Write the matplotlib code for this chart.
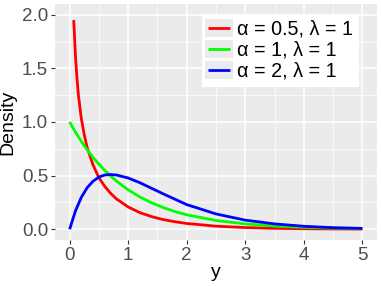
import matplotlib.pyplot as plt
from matplotlib.patches import Rectangle
from matplotlib.legend_handler import HandlerLine2D

# values
x_red = [0.07, 0.085, 0.1, 0.125, 0.15, 0.2, 0.25, 0.3, 0.4, 0.5, 0.6, 0.7, 0.8,
         1.0, 1.2, 1.4, 1.6, 1.8, 2.0, 2.5, 3.0, 3.5, 4.0, 4.5, 5.0]
y_red = [1.95, 1.78, 1.61, 1.41, 1.25, 1.03, 0.88, 0.76, 0.60, 0.48, 0.40, 0.335, 0.283,
         0.208, 0.155, 0.118, 0.090, 0.070, 0.054, 0.029, 0.016, 0.009, 0.005, 0.003, 0.002]

x_grid = [0, 0.1, 0.2, 0.3, 0.4, 0.5, 0.6, 0.7, 0.8, 1.0, 1.2, 1.4, 1.6, 1.8, 2.0,
          2.5, 3.0, 3.5, 4.0, 4.5, 5.0]
y_green = [1.0, 0.905, 0.819, 0.741, 0.670, 0.607, 0.549, 0.497, 0.449, 0.368, 0.301,
           0.247, 0.202, 0.165, 0.135, 0.082, 0.050, 0.030, 0.018, 0.011, 0.007]
y_blue = [0.0, 0.172, 0.298, 0.388, 0.448, 0.487, 0.506, 0.510, 0.506, 0.478, 0.434,
          0.382, 0.330, 0.280, 0.230, 0.143, 0.085, 0.050, 0.028, 0.015, 0.008]

labels = ["α = 0.5, λ = 1", "α = 1, λ = 1", "α = 2, λ = 1"]


class GreyKey(HandlerLine2D):
    # ggplot-like grey background behind each legend key
    def create_artists(self, legend, orig_handle, xdescent, ydescent,
                       width, height, fontsize, trans):
        arts = super().create_artists(legend, orig_handle, xdescent, ydescent,
                                      width, height, fontsize, trans)
        gap = legend.labelspacing * fontsize
        r = Rectangle((-xdescent - 2, -ydescent - gap / 2 - 1), width + 4,
                      height + gap + 2, facecolor='#EBEBEB', edgecolor='none',
                      transform=trans)
        return [r] + list(arts)


plt.rcParams['font.family'] = ['Liberation Sans', 'DejaVu Sans']

fig = plt.figure(figsize=(3.81, 2.86), dpi=100)
ax = fig.add_axes([55/381, 1 - 240/286, 322/381, 236/286])
ax.set_facecolor('#EBEBEB')

ax.plot(x_red, y_red, color='#FF0000', lw=2.0, label=labels[0], solid_capstyle='butt')
ax.plot(x_grid, y_green, color='#00FF00', lw=2.0, label=labels[1], solid_capstyle='butt')
ax.plot(x_grid, y_blue, color='#0000FF', lw=2.0, label=labels[2], solid_capstyle='butt')

ax.set_xlim(-0.25, 5.25)
ax.set_ylim(-0.1, 2.1)
ax.set_xticks([0, 1, 2, 3, 4, 5])
ax.set_yticks([0, 0.5, 1.0, 1.5, 2.0])
ax.set_yticklabels(['0.0', '0.5', '1.0', '1.5', '2.0'])
ax.set_xticks([0.5, 1.5, 2.5, 3.5, 4.5], minor=True)
ax.set_yticks([0.25, 0.75, 1.25, 1.75], minor=True)
ax.grid(which='major', color='white', lw=1.1)
ax.grid(which='minor', color='white', lw=0.5)
ax.set_axisbelow(True)
for s in ax.spines.values():
    s.set_visible(False)
ax.tick_params(which='major', length=3, width=0.8, color='#333333',
               labelsize=13.5, labelcolor='#4D4D4D', pad=2)
ax.tick_params(which='minor', length=0)

ax.set_xlabel('y', fontsize=14)
ax.set_ylabel('Density', fontsize=14)
ax.xaxis.set_label_coords(0.5, -0.1)
ax.yaxis.set_label_coords(-0.12, 0.5)

leg = ax.legend(loc='upper right', bbox_to_anchor=(359/381, 1 - 14/286),
                bbox_transform=fig.transFigure, borderaxespad=0, fontsize=14.2,
                frameon=True, fancybox=False, handlelength=1.15, handletextpad=0.35,
                labelspacing=0.1, borderpad=0.3,
                handler_map={plt.Line2D: GreyKey()})
leg.get_frame().set_facecolor('white')
leg.get_frame().set_edgecolor('none')
leg.get_frame().set_alpha(1)

fig.savefig('out.png', dpi=100)
